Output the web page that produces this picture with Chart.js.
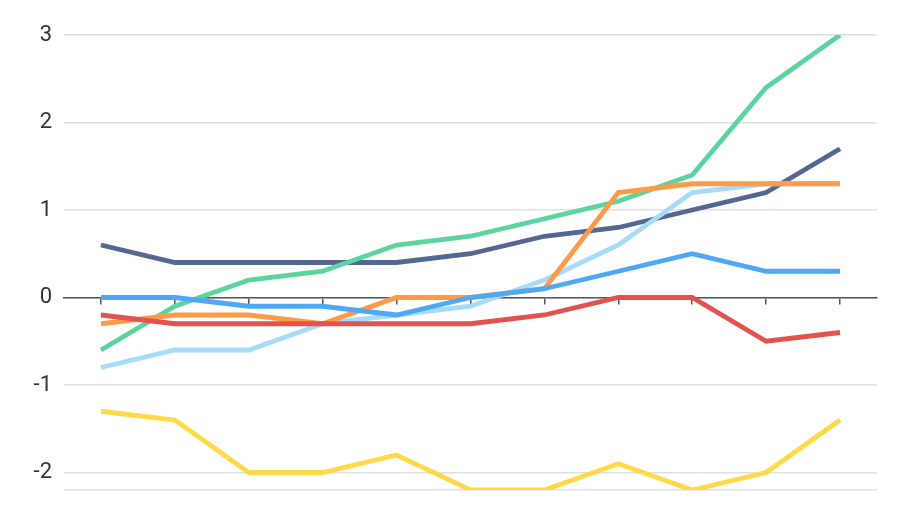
<!DOCTYPE html>
<html>
<head>
<meta charset="utf-8">
<script src="https://cdn.jsdelivr.net/npm/chart.js@4/dist/chart.umd.min.js"></script>
<style>
html,body{margin:0;padding:0;background:#fff;}
#wrap{width:900px;height:506px;}
</style>
</head>
<body>
<div id="wrap"><canvas id="c" width="900" height="506"></canvas></div>
<script>
const categories = ['1','2','3','4','5','6','7','8','9','10','11'];
const yTicks = [-2, -1, 0, 1, 2, 3];
const navy   = [0.6, 0.4, 0.4, 0.4, 0.4, 0.5, 0.7, 0.8, 1.0, 1.2, 1.7];
const green  = [-0.6, -0.1, 0.2, 0.3, 0.6, 0.7, 0.9, 1.1, 1.4, 2.4, 3.0];
const blue   = [0, 0, -0.1, -0.1, -0.2, 0, 0.1, 0.3, 0.5, 0.3, 0.3];
const red    = [-0.2, -0.3, -0.3, -0.3, -0.3, -0.3, -0.2, 0, 0, -0.5, -0.4];
const orange = [-0.3, -0.2, -0.2, -0.3, 0, 0, 0.1, 1.2, 1.3, 1.3, 1.3];
const light  = [-0.8, -0.6, -0.6, -0.3, -0.2, -0.1, 0.2, 0.6, 1.2, 1.3, 1.3];
const yellow = [-1.3, -1.4, -2.0, -2.0, -1.8, -2.2, -2.2, -1.9, -2.2, -2.0, -1.4];

function ds(data, color, order) {
  return { data, borderColor: color, backgroundColor: color, borderWidth: 4.8,
    pointRadius: 0, pointHoverRadius: 0, tension: 0, fill: false, order,
    borderCapStyle: 'butt', borderJoinStyle: 'miter' };
}

new Chart(document.getElementById('c'), {
  type: 'line',
  data: {
    labels: categories,
    datasets: [
      ds(blue, '#4fa8f5', 1),
      ds(red, '#e2524e', 2),
      ds(orange, '#ff9a48', 3),
      ds(light, '#a6dbfb', 4),
      ds(green, '#5bd49e', 5),
      ds(navy, '#546790', 6),
      ds(yellow, '#ffd948', 7)
    ]
  },
  options: {
    responsive: false,
    animation: false,
    events: [],
    layout: { padding: { top: 35, right: 23, bottom: 16, left: 0 } },
    plugins: { legend: { display: false }, tooltip: { enabled: false } },
    scales: {
      x: {
        type: 'category',
        offset: true,
        position: { y: 0 },
        afterFit: (s) => { s.height = 0; s.paddingLeft = 0; s.paddingRight = 0; s.paddingTop = 0; s.paddingBottom = 0; },
        border: { display: true, color: '#555555', width: 1.5 },
        grid: { display: true, drawOnChartArea: false, drawTicks: true, tickLength: 6,
                color: '#555555', lineWidth: 1.5, offset: false },
        ticks: { display: false }
      },
      y: {
        min: -2.2,
        max: 3,
        afterFit: (s) => { s.width = 64; s.paddingTop = 0; s.paddingBottom = 0; },
        afterBuildTicks: (s) => {
          s.ticks = [{ value: -2.2 }].concat(yTicks.map(v => ({ value: v })));
        },
        border: { display: false },
        grid: { color: '#e0e0e0', lineWidth: 1.5, drawTicks: false },
        ticks: {
          padding: 12,
          color: '#333333',
          font: { family: 'Roboto', size: 22 },
          callback: (v) => (yTicks.includes(v) ? String(v) : '')
        }
      }
    }
  }
});
</script>
</body>
</html>
